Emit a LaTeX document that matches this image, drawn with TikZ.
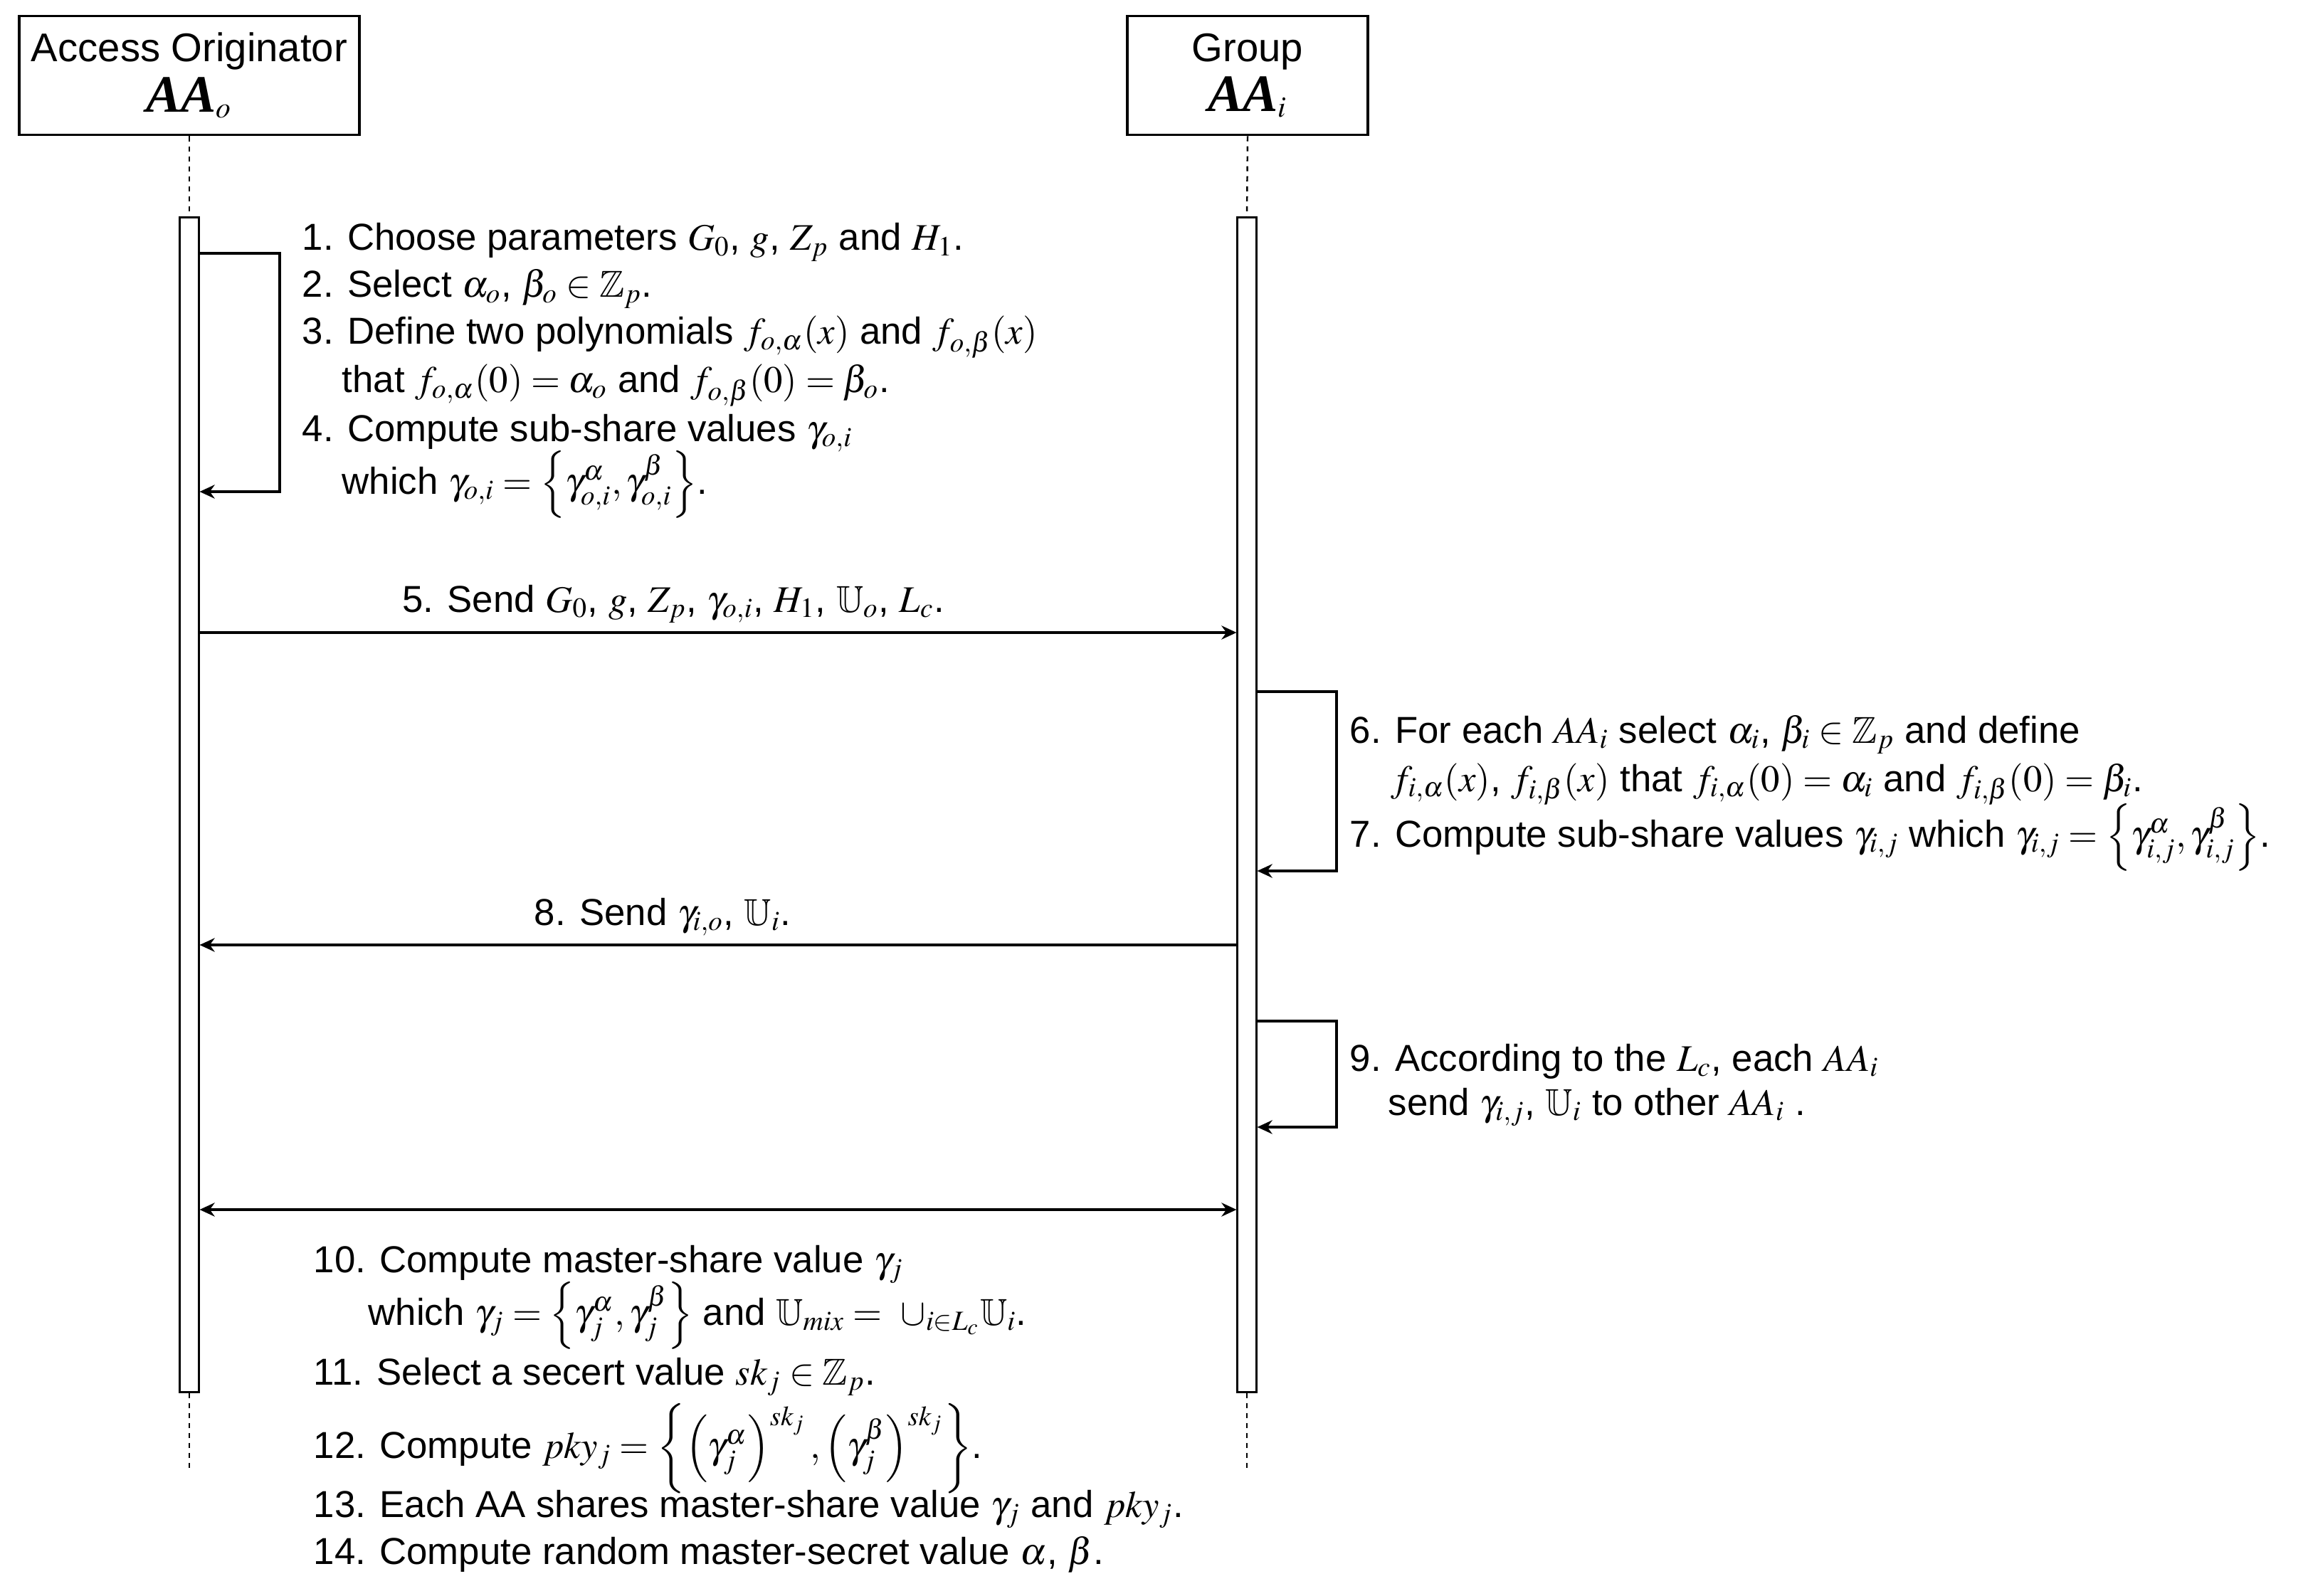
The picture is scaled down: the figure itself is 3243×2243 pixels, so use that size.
\documentclass[tikz,border=0pt]{standalone}
\usepackage{amsmath}
\usepackage{amssymb}
\usepackage{mathptmx}
\usepackage[no-math]{fontspec}
\setmainfont{Liberation Sans}
\newfontfamily\hdrserif{Liberation Serif}
\usetikzlibrary{arrows.meta}
\newcommand{\hdrAA}[1]{{\fontsize{21}{24}\selectfont\hdrserif\bfseries\itshape AA}$_{#1}$}
\tikzset{
  actor/.style={draw, line width=1.1pt, minimum width=#1, minimum height=1.67cm, align=center, inner sep=0pt, font=\fontsize{16}{19}\selectfont},
  bar/.style={draw, line width=0.6pt, fill=white, minimum width=0.27cm, minimum height=16.5cm, inner sep=0pt},
  life/.style={line width=0.7pt, dash pattern=on 2pt off 2pt},
  msg/.style={line width=0.9pt, -{Stealth[length=6pt,width=5.5pt]}},
  bimsg/.style={line width=0.9pt, {Stealth[length=6pt,width=5.5pt]}-{Stealth[length=6pt,width=5.5pt]}},
  txt/.style={anchor=base west, inner sep=0pt, font=\fontsize{15}{18}\selectfont},
  lbl/.style={anchor=base, inner sep=0pt, font=\fontsize{15}{18}\selectfont}
}
\begin{document}
\begin{tikzpicture}[x=0.01cm,y=-0.01cm]
\useasboundingbox (0,0) rectangle (3243,2243);
% actors
\node[actor=4.78cm] (ao) at (266,106) {Access Originator\\[1pt]\hdrAA{o}};
\node[actor=3.37cm] (ai) at (1753,106) {Group\\[1pt]\hdrAA{i}};
% bars
\node[bar] (barL) at (266,1131) {};
\node[bar] (barR) at (1752,1131) {};
\coordinate (endL) at (266,2068);
\coordinate (endR) at (1752,2068);
\draw[life] (ao.south) -- (barL.north);
\draw[life] (ai.south) -- (barR.north);
\draw[life] (barL.south) -- (endL);
\draw[life] (barR.south) -- (endR);
% self loop 1-4
\coordinate (s1a) at (393,356);
\coordinate (s1b) at (393,691);
\draw[msg] (barL.east |- s1a) -- (s1a) -- (s1b) -- (barL.east |- s1b);
\node[txt] (t1) at (424,352) {1. Choose parameters $G_0$, $g$, $Z_p$ and $H_1$.};
\node[txt] (t2) at (424,418) {2. Select $\alpha_o$, $\beta_o \in \mathbb{Z}_p$.};
\node[txt] (t3) at (424,484) {3. Define two polynomials $f_{o,\alpha}(x)$ and $f_{o,\beta}(x)$};
\node[txt] (t3b) at (480,552) {that $f_{o,\alpha}(0) = \alpha_o$ and $f_{o,\beta}(0) = \beta_o$.};
\node[txt] (t4) at (424,620) {4. Compute sub-share values $\gamma_{o,i}$};
\node[txt] (t4b) at (480,694) {which $\gamma_{o,i} = \left\{\gamma^{\alpha}_{o,i}, \gamma^{\beta}_{o,i}\right\}$.};
% message 5
\coordinate (m5) at (0,889);
\draw[msg] (barL.east |- m5) -- (barR.west |- m5);
\node[lbl] (t5) at (946,860) {5. Send $G_0$, $g$, $Z_p$, $\gamma_{o,i}$, $H_1$, $\mathbb{U}_o$, $L_c$.};
% self loop 6-7
\coordinate (s6a) at (1878,972);
\coordinate (s6b) at (1878,1224);
\draw[msg] (barR.east |- s6a) -- (s6a) -- (s6b) -- (barR.east |- s6b);
\node[txt] (t6) at (1896,1044) {6. For each $AA_i$ select $\alpha_i$, $\beta_i \in \mathbb{Z}_p$ and define};
\node[txt] (t6b) at (1954,1112) {$f_{i,\alpha}(x)$, $f_{i,\beta}(x)$ that $f_{i,\alpha}(0) = \alpha_i$ and $f_{i,\beta}(0) = \beta_i$.};
\node[txt] (t7) at (1896,1190) {7. Compute sub-share values $\gamma_{i,j}$ which $\gamma_{i,j} = \left\{\gamma^{\alpha}_{i,j}, \gamma^{\beta}_{i,j}\right\}$.};
% message 8
\coordinate (m8) at (0,1328);
\draw[msg] (barR.west |- m8) -- (barL.east |- m8);
\node[lbl] (t8) at (931,1300) {8. Send $\gamma_{i,o}$, $\mathbb{U}_i$.};
% self loop 9
\coordinate (s9a) at (1878,1435);
\coordinate (s9b) at (1878,1584);
\draw[msg] (barR.east |- s9a) -- (s9a) -- (s9b) -- (barR.east |- s9b);
\node[txt] (t9) at (1896,1505) {9. According to the $L_c$, each $AA_i$};
\node[txt] (t9b) at (1950,1567) {send $\gamma_{i,j}$, $\mathbb{U}_i$ to other $AA_i$ .};
% message 10
\coordinate (m10) at (0,1700);
\draw[bimsg] (barL.east |- m10) -- (barR.west |- m10);
\node[txt] (t10) at (440,1788) {10. Compute master-share value $\gamma_j$};
\node[txt] (t10b) at (517,1862) {which $\gamma_j = \left\{\gamma^{\alpha}_j, \gamma^{\beta}_j\right\}$ and $\mathbb{U}_{mix} = \ \cup_{i\in L_c} \mathbb{U}_i$.};
\node[txt] (t11) at (440,1946) {11. Select a secert value $sk_j \in \mathbb{Z}_p$.};
\node[txt] (t12) at (440,2049) {12. Compute $pky_j = \left\{ \left(\gamma^{\alpha}_j\right)^{sk_j}, \left(\gamma^{\beta}_j\right)^{sk_j} \right\}$.};
\node[txt] (t13) at (440,2132) {13. Each AA shares master-share value $\gamma_j$ and $pky_j$.};
\node[txt] (t14) at (440,2198) {14. Compute random master-secret value $\alpha$, $\beta$.};
\end{tikzpicture}
\end{document}
